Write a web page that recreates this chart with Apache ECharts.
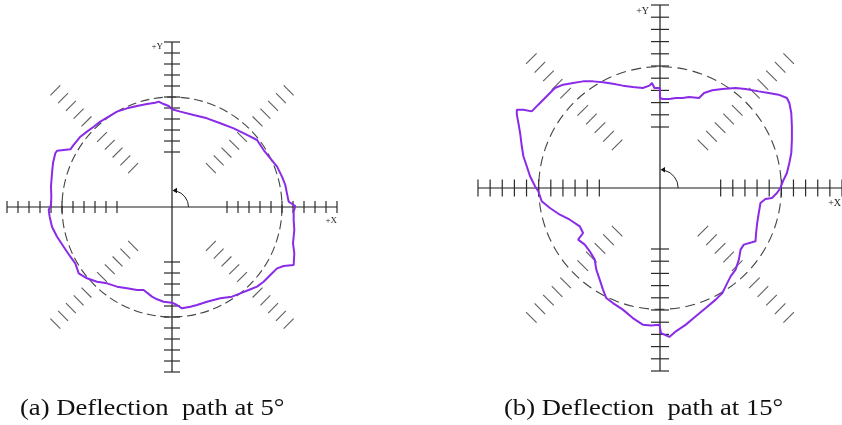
<!DOCTYPE html>
<html><head><meta charset="utf-8">
<script src="https://cdn.jsdelivr.net/npm/echarts@6/dist/echarts.min.js"></script>
<style>html,body{margin:0;padding:0;background:#fff}#c{width:842px;height:425px}</style>
</head><body><div id="c"></div>
<script>
// ---- structure values (data units) ----
const axisExtent = 15;
const axisTicks = [5, 6, 7, 8, 9, 10, 11, 12, 13, 14, 15];
const diagTicks = [5, 6, 7, 8, 9, 11, 12, 13, 14, 15];
const circleRadius = 10;
const arcRadius = 1.5;
const captions = ['(a) Deflection  path at 5°', '(b) Deflection  path at 15°'];
const axisNames = ['+X', '+Y'];

// ---- deflection path at 5 deg (x, y) ----
const pathA = [
 [0,8.88],[0.76,8.67],[1.97,8.36],[3.18,8.06],[4.39,7.61],[5.61,7.15],[6.82,6.55],[7.73,6.09],
 [8.33,5.18],[8.94,4.42],[9.55,3.67],[10.0,2.76],[10.3,2.0],[10.45,1.24],[10.61,0.48],[11.21,0.09],
 [11.06,-0.42],[11.06,-1.18],[11.12,-2.09],[11.0,-3.3],[11.12,-4.21],[11.06,-5.27],[10.15,-5.36],
 [9.55,-5.58],[8.94,-6.18],[8.33,-6.79],[7.73,-7.24],[6.97,-7.55],[6.21,-7.85],[5.45,-8.15],
 [4.39,-8.3],[3.18,-8.61],[2.27,-8.91],[1.67,-9.06],[0.91,-9.21],[0.45,-8.91],[0,-8.7],
 [-0.76,-8.61],[-1.36,-8.39],[-1.82,-8.15],[-2.58,-7.55],[-3.18,-7.55],[-4.09,-7.39],[-5.0,-7.24],
 [-5.91,-6.94],[-6.82,-6.79],[-7.73,-6.48],[-8.48,-6.03],[-8.79,-5.12],[-9.24,-4.52],[-9.85,-3.61],
 [-10.45,-2.7],[-10.91,-1.79],[-11.12,-0.88],[-11.21,-0.27],[-11.0,0.18],[-10.97,0.94],[-11.0,1.85],
 [-10.91,3.06],[-10.82,3.97],[-10.61,4.88],[-10.45,5.12],[-9.24,5.24],[-8.94,5.64],[-8.33,6.39],
 [-7.73,6.85],[-7.12,7.3],[-6.52,7.76],[-5.76,8.21],[-5.0,8.67],[-4.09,8.97],[-3.18,9.18],
 [-2.27,9.36],[-1.52,9.48],[-1.21,9.58],[-0.76,9.36],[-0.3,9.18],[0,8.88]
];

// ---- deflection path at 15 deg (x, y) ----
const pathB = [
 [0,8.2],[-0.46,8.2],[-0.66,8.61],[-0.87,8.39],[-1.42,8.2],[-2.24,8.28],[-3.06,8.39],[-3.88,8.55],
 [-4.7,8.66],[-5.52,8.74],[-6.34,8.74],[-7.16,8.61],[-7.98,8.47],[-8.66,8.2],[-9.07,7.79],[-9.48,7.38],
 [-10.03,6.83],[-10.57,6.28],[-11.26,6.42],[-11.8,6.42],[-11.8,6.01],[-11.67,5.33],[-11.53,4.51],
 [-11.39,3.42],[-11.26,2.6],[-10.98,1.78],[-10.71,0.96],[-10.3,0.14],[-10.03,-0.27],[-9.89,-0.68],
 [-9.75,-1.09],[-9.07,-1.64],[-8.25,-2.19],[-7.43,-2.6],[-6.61,-3.14],[-6.34,-3.69],[-6.75,-4.23],
 [-6.2,-4.64],[-5.79,-5.19],[-5.38,-5.87],[-5.25,-6.69],[-4.97,-7.51],[-4.7,-8.33],[-4.43,-9.02],
 [-3.88,-9.43],[-3.06,-9.97],[-2.24,-10.66],[-1.42,-11.2],[-0.74,-11.28],[-0.05,-11.2],[0.08,-11.89],
 [0.77,-12.21],[1.31,-11.75],[2.13,-11.2],[2.95,-10.52],[3.77,-9.84],[4.59,-9.15],[5.14,-8.61],
 [5.41,-8.06],[5.82,-7.24],[6.23,-6.69],[6.5,-5.87],[6.64,-5.05],[6.91,-4.64],[7.87,-4.37],
 [7.92,-3.69],[8.01,-2.87],[8.14,-2.05],[8.28,-1.23],[8.69,-0.9],[9.23,-0.82],[9.64,-0.41],[9.92,0],
 [10.19,0.68],[10.46,1.23],[10.66,2.05],[10.82,2.87],[10.87,3.96],[10.87,5.05],[10.82,6.15],
 [10.66,6.97],[10.46,7.38],[9.78,7.65],[8.96,7.79],[8.14,7.92],[7.05,8.11],[6.23,8.2],[5.14,8.11],
 [4.32,8.01],[3.63,7.79],[3.22,7.38],[2.4,7.46],[1.86,7.38],[1.31,7.38],[0.77,7.3],[0.22,7.3],
 [0,7.38],[0,8.2]
];

const chart = echarts.init(document.getElementById('c'), null, {renderer: 'canvas'});

function frameRender(cfg) {
  return function (params, api) {
    const c = api.coord([0, 0]);
    const px = api.coord([1, 0])[0] - c[0];
    const ch = [];
    const L = (x1, y1, x2, y2, style) => ({type: 'line', shape: {x1, y1, x2, y2}, style});
    const axisStyle = {stroke: '#1a1a1a', lineWidth: 1.2};
    const tickStyle = {stroke: '#2a2a2a', lineWidth: 1.2};
    const diagStyle = {stroke: '#5e5e5e', lineWidth: 1.1};
    const e0 = api.coord([-axisExtent, 0]), e1 = api.coord([axisExtent, 0]);
    const f0 = api.coord([0, -axisExtent]), f1 = api.coord([0, axisExtent]);
    // diagonal hatch ticks
    diagTicks.forEach(v => {
      const d = v / Math.SQRT2;
      [[1, 1], [-1, 1], [-1, -1], [1, -1]].forEach(([sx, sy]) => {
        const p = api.coord([sx * d, sy * d]);
        const h = cfg.td / Math.SQRT2;
        ch.push(L(p[0] - sy * h, p[1] - sx * h, p[0] + sy * h, p[1] + sx * h, diagStyle));
      });
    });
    // dashed reference circle
    ch.push({type: 'circle', shape: {cx: c[0], cy: c[1], r: circleRadius * px},
      style: {fill: 'none', stroke: '#444', lineWidth: 1.1, lineDash: cfg.dash}});
    // axes
    ch.push(L(e0[0], e0[1], e1[0], e1[1], axisStyle));
    ch.push(L(f0[0], f0[1], f1[0], f1[1], axisStyle));
    axisTicks.forEach(v => {
      [-1, 1].forEach(s => {
        const p = api.coord([s * v, 0]);
        ch.push(L(p[0], p[1] - cfg.tx, p[0], p[1] + cfg.tx, tickStyle));
        const q = api.coord([0, s * v]);
        ch.push(L(q[0] - cfg.ty, q[1], q[0] + cfg.ty, q[1], tickStyle));
      });
    });
    // rotation arc with arrow
    const r = arcRadius * px;
    ch.push({type: 'arc', shape: {cx: c[0], cy: c[1], r: r, startAngle: -1.32, endAngle: 0, clockwise: true},
      style: {stroke: '#222', fill: 'none', lineWidth: 1}});
    ch.push({type: 'polygon', shape: {points: [[c[0] + 0.5, c[1] - r], [c[0] + 5, c[1] - r - 2.8], [c[0] + 5, c[1] - r + 2.8]]},
      style: {fill: '#111'}});
    // axis names
    ch.push({type: 'text', style: {text: axisNames[1], x: f1[0] - cfg.yl[0], y: f1[1] + cfg.yl[1],
      align: 'right', verticalAlign: 'middle', font: cfg.lf + 'px "Liberation Serif"', fill: '#222'}});
    ch.push({type: 'text', style: {text: axisNames[0], x: e1[0] + cfg.xl[0], y: e1[1] + cfg.xl[1],
      align: 'right', verticalAlign: 'middle', font: cfg.lf + 'px "Liberation Serif"', fill: '#222'}});
    return {type: 'group', children: ch};
  };
}

const cfgA = {tx: 6, ty: 8, td: 7, dash: [9, 4.5], yl: [9, 4.5], xl: [0, 13.5], lf: 9};
const cfgB = {tx: 8.5, ty: 9, td: 7.5, dash: [10, 5.5], yl: [11, 6.5], xl: [-1, 15.5], lf: 10};

const valAxis = (gi) => ({type: 'value', gridIndex: gi, min: -axisExtent, max: axisExtent, show: false});

chart.setOption({
  animation: false,
  backgroundColor: '#fff',
  grid: [
    {left: 7, top: 42, width: 330, height: 330},
    {left: 478, top: 5, width: 366, height: 366}
  ],
  xAxis: [valAxis(0), valAxis(1)],
  yAxis: [valAxis(0), valAxis(1)],
  series: [
    {type: 'custom', xAxisIndex: 0, yAxisIndex: 0, data: [[0, 0]], renderItem: frameRender(cfgA), silent: true, z: 1},
    {type: 'custom', xAxisIndex: 1, yAxisIndex: 1, data: [[0, 0]], renderItem: frameRender(cfgB), silent: true, z: 1},
    {type: 'line', xAxisIndex: 0, yAxisIndex: 0, data: pathA, symbol: 'none', z: 3,
      lineStyle: {color: '#8a2be8', width: 2}},
    {type: 'line', xAxisIndex: 1, yAxisIndex: 1, data: pathB, symbol: 'none', z: 3,
      lineStyle: {color: '#8a2be8', width: 2}}
  ],
  graphic: [
    {type: 'text', x: 20, y: 409, scaleX: 1.11, style: {text: captions[0], font: '24px "Liberation Serif"', fill: '#111', verticalAlign: 'middle'}},
    {type: 'text', x: 504, y: 409, scaleX: 1.11, style: {text: captions[1], font: '24px "Liberation Serif"', fill: '#111', verticalAlign: 'middle'}}
  ]
});
</script>
</body></html>
